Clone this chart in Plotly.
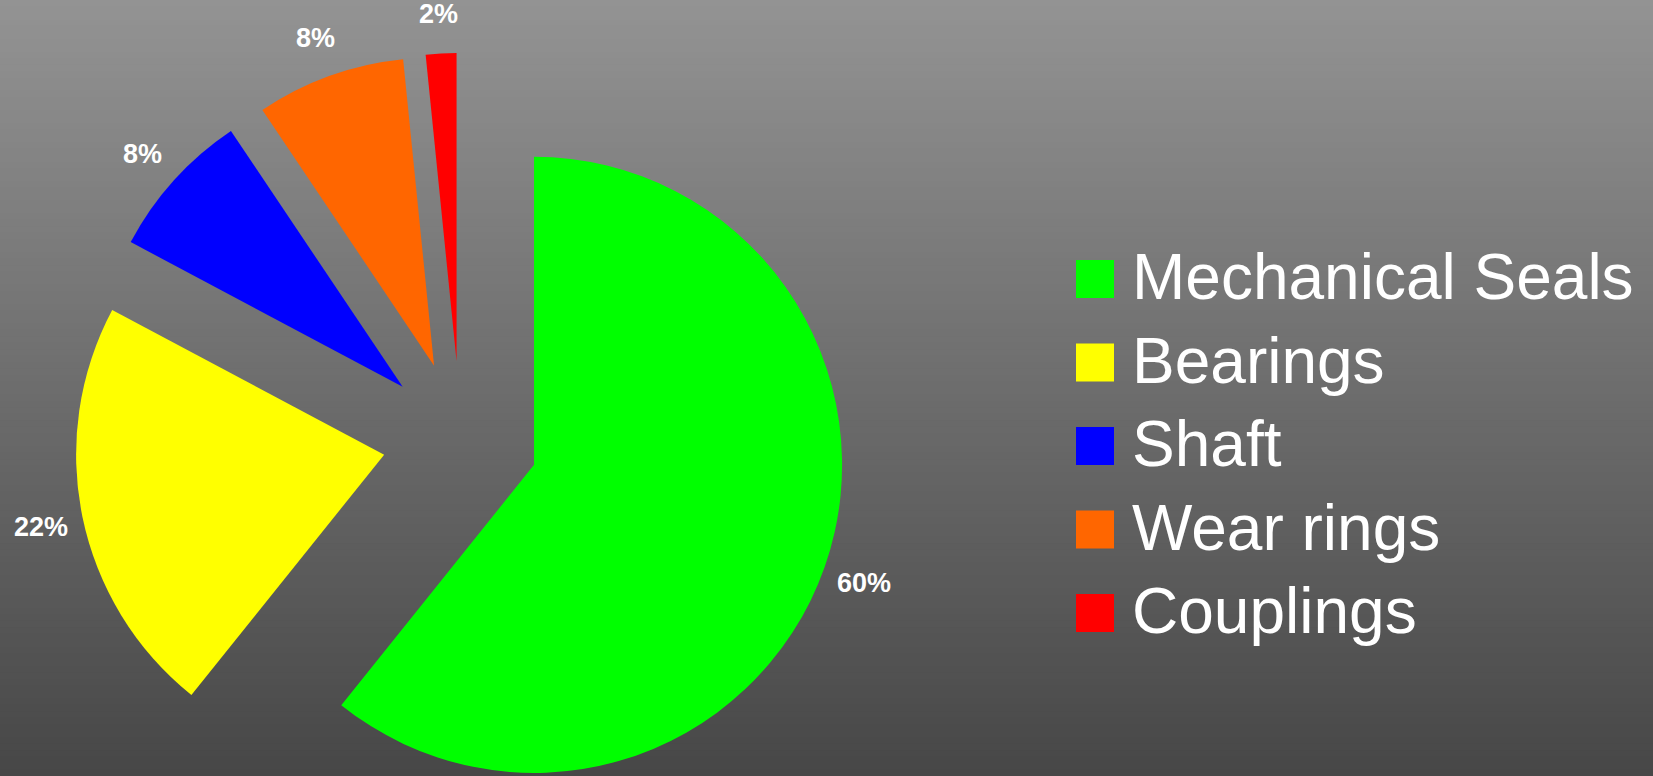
import math
import plotly.graph_objects as go

# data (slice sizes as drawn, labels as printed on the chart)
labels = ["Mechanical Seals", "Bearings", "Shaft", "Wear rings", "Couplings"]
values = [60.7, 22.0, 7.8, 7.8, 1.6]
pct_text = ["60%", "22%", "8%", "8%", "2%"]
colors = ["#00ff00", "#ffff00", "#0000ff", "#ff6600", "#ff0000"]

W, H = 1653, 830  # figure a bit taller than the 776px window, bottom gets clipped
VISIBLE_H = 776
_top_grey = (147, 147, 147)
_bottom_grey = (71, 71, 71)

# pie geometry in pixels
CX, CY = 460.5, 439      # centre of the (un-pulled) pie
RT = 386                 # radius + pull
PULL = 0.253
LABEL_R = 428            # where the percent labels sit
FONT = "Liberation Sans, Arial"

fig = go.Figure()

fig.add_trace(go.Pie(
    labels=labels,
    values=values,
    marker=dict(colors=colors, line=dict(width=0)),
    sort=False,
    direction="clockwise",
    rotation=0,
    pull=[PULL] * len(values),
    textinfo="none",
    showlegend=False,
    automargin=False,
    hovertext=pct_text,
    hoverinfo="label+text",
    domain=dict(x=[(CX - RT) / W, (CX + RT) / W],
                y=[1 - (CY + RT) / H, 1 - (CY - RT) / H]),
))

# vertical grey gradient for the background (visible part only)
shapes = []
n_strips = 120
for i in range(n_strips):
    t = i / (n_strips - 1)
    c = [round(a + (b - a) * t) for a, b in zip(_top_grey, _bottom_grey)]
    shapes.append(dict(type="rect", xref="paper", yref="paper",
                       x0=0, x1=1,
                       y0=1 - (i + 1) * VISIBLE_H / n_strips / H - 0.001,
                       y1=1 - i * VISIBLE_H / n_strips / H,
                       fillcolor=f"rgb({c[0]},{c[1]},{c[2]})", line=dict(width=0),
                       layer="below"))

annotations = []

# percent labels, placed radially at the middle of each slice
total = sum(values)
cum = 0
for v, txt in zip(values, pct_text):
    mid = (cum + v / 2) / total * 2 * math.pi
    cum += v
    px = CX + LABEL_R * math.sin(mid)
    py = CY - LABEL_R * math.cos(mid) + 2
    annotations.append(dict(x=px / W, y=1 - py / H, xref="paper", yref="paper",
                            text=txt, showarrow=False, xanchor="center", yanchor="middle",
                            font=dict(family=FONT, size=27, color="white", weight="bold")))

# big legend drawn by hand (plotly legend symbols can't be this large)
legend_top = 279
legend_step = 83.5
for i, (lab, col) in enumerate(zip(labels, colors)):
    yc = legend_top + i * legend_step
    shapes.append(dict(type="rect", xref="paper", yref="paper",
                       x0=1076 / W, x1=1114 / W,
                       y0=1 - (yc + 19) / H, y1=1 - (yc - 19) / H,
                       fillcolor=col, line=dict(width=0)))
    annotations.append(dict(x=1130 / W, y=1 - (yc - 2) / H, xref="paper", yref="paper",
                            text=lab, showarrow=False, xanchor="left", yanchor="middle",
                            font=dict(family=FONT, size=64, color="white")))

fig.update_layout(
    width=W,
    height=H,
    margin=dict(l=0, r=0, t=0, b=0, pad=0, autoexpand=False),
    paper_bgcolor="#4a4a4a",
    plot_bgcolor="#6e6e6e",
    shapes=shapes,
    annotations=annotations,
)

fig.write_html("out.html",
               config={"displayModeBar": False},
               post_script="document.body.style.margin='0';document.body.style.overflow='hidden';")
